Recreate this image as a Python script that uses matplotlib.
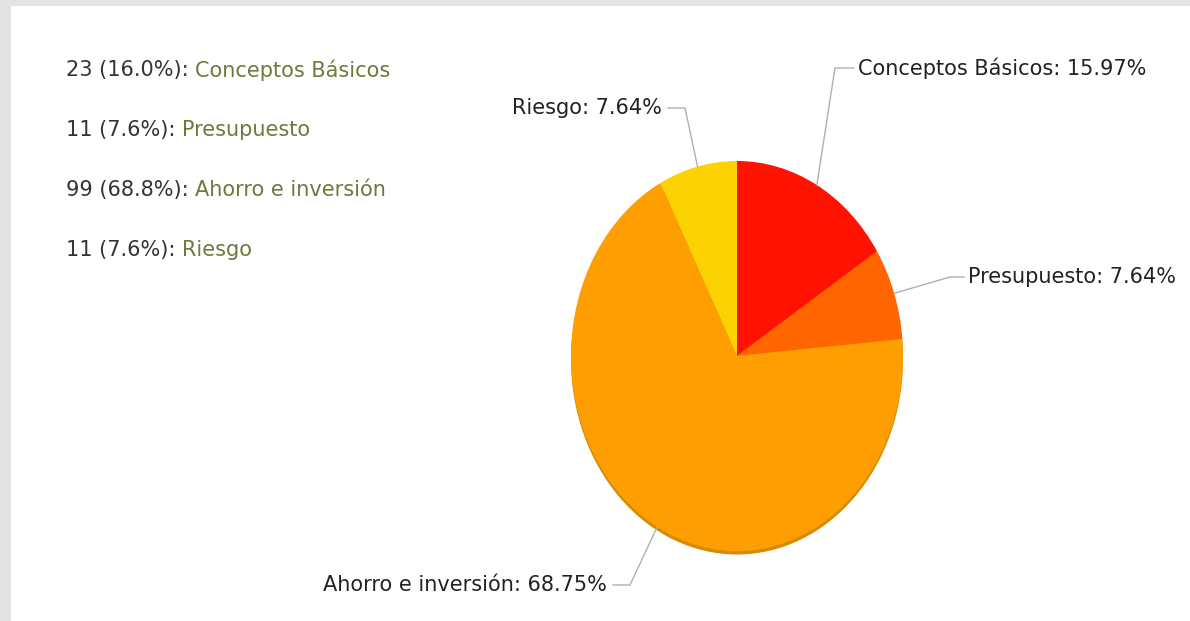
import matplotlib.pyplot as plt
import numpy as np
from matplotlib.patches import Rectangle, Ellipse

labels = ["Conceptos Básicos", "Presupuesto", "Ahorro e inversión", "Riesgo"]
counts = [23, 11, 99, 11]
colors = ["#FF1300", "#FF6600", "#FF9E01", "#FCD202"]

W, H = 1190, 621
fig = plt.figure(figsize=(W / 100, H / 100), dpi=100)
fig.patch.set_facecolor("#e3e3e3")

# white panel + overlay in pixel coords
ov = fig.add_axes([0, 0, 1, 1], zorder=5)
ov.set_xlim(0, W)
ov.set_ylim(H, 0)
ov.axis("off")
ov.patch.set_alpha(0)
fig.patches.append(Rectangle((11 / W, 0), 1, 1 - 6 / H, transform=fig.transFigure,
                             facecolor="white", edgecolor="none", zorder=-10))

# pie geometry (pixels)
cx, cy, rx, ry = 737, 356, 166, 195
ax = fig.add_axes([(cx - rx) / W, (H - cy - ry) / H, 2 * rx / W, 2 * ry / H], zorder=2)
ax.add_patch(Ellipse((0, -0.018), 2, 2, facecolor="#D98A00", edgecolor="none",
                     zorder=0, clip_on=False))
ax.pie(counts, colors=colors, startangle=90, counterclock=False, radius=1,
       wedgeprops=dict(linewidth=0, zorder=1))
ax.set_aspect("auto")
ax.set_xlim(-1, 1)
ax.set_ylim(-1, 1)
ax.axis("off")

total = sum(counts)
pct = [c / total * 100 for c in counts]

# label layout: elbow point, text x, alignment
elbows = [(835, 68), (950, 277), (630, 585), (685, 108)]
text_x = [858, 968, 607, 662]
aligns = ["left", "left", "right", "right"]

fs = 15
cum = 0
for i, lab in enumerate(labels):
    mid = 90 - (cum + pct[i] / 2) * 3.6
    cum += pct[i]
    px = cx + rx * np.cos(np.radians(mid))
    py = cy - ry * np.sin(np.radians(mid))
    ex, ey = elbows[i]
    hx = text_x[i] - 4 if aligns[i] == "left" else text_x[i] + 6
    ov.plot([px, ex, hx], [py, ey, ey], color="#b0b0b0", lw=1)
    ov.text(text_x[i], ey, f"{lab}: {pct[i]:.2f}%", ha=aligns[i], va="center",
            fontsize=fs, color="#222222", family="DejaVu Sans")

# left legend
for i, lab in enumerate(labels):
    y = 70 + 60 * i
    t = ov.text(66, y, f"{counts[i]} ({pct[i]:.1f}%): ", ha="left", va="center",
                fontsize=fs, color="#333333", family="DejaVu Sans")
    ov.annotate(lab, xycoords=t, xy=(1, 0.5), va="center", ha="left",
                fontsize=fs, color="#6B7B3B", family="DejaVu Sans")

fig.savefig("out.png", dpi=100, facecolor=fig.get_facecolor())
